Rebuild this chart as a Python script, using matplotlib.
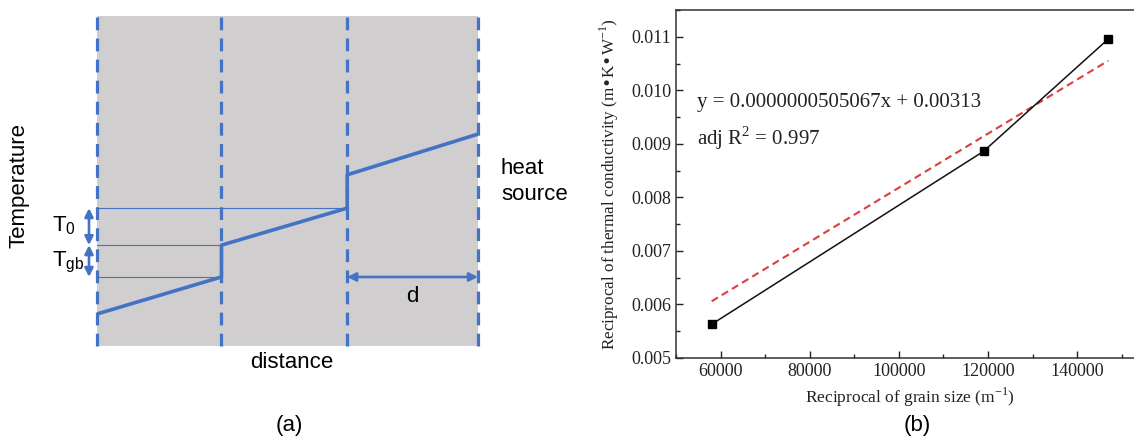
import matplotlib
matplotlib.use("Agg")
import matplotlib.pyplot as plt
from matplotlib.ticker import MultipleLocator

# ---------------- data ----------------
# panel (a): schematic temperature profile across grains
grain_edges = [0.0, 0.98, 1.97, 3.0]          # grain boundary positions (distance)
temp_left = [0.0, 1.86, 3.76]                 # temperature at left side of each grain
temp_right = [1.0, 2.86, 4.86]                # temperature at right side of each grain

# panel (b): reciprocal of thermal conductivity vs reciprocal of grain size
grain_recip = [58000, 119000, 147000]
cond_recip = [0.00563, 0.00886, 0.01096]
fit_slope = 0.0000000505067
fit_intercept = 0.00313
fit_label = "y = 0.0000000505067x + 0.00313"
r2_label = r"adj R$^\mathregular{2}$ = 0.997"
x_ticks = [60000, 80000, 100000, 120000, 140000]
y_ticks = [0.005, 0.006, 0.007, 0.008, 0.009, 0.010, 0.011]

W, H = 1134, 437
fig = plt.figure(figsize=(W / 100, H / 100), dpi=100)
fig.patch.set_facecolor("white")

def box(x0, y0, x1, y1):
    # pixel box (top-left origin) -> figure fraction
    return [x0 / W, 1 - y1 / H, (x1 - x0) / W, (y1 - y0) / H]

def fx(x):
    return x / W

def fy(y):
    return 1 - y / H

BLUE = "#4472c4"
GRAY = "#d0cece"
SANS = "Liberation Sans"
SERIF = "Liberation Serif"

# ---------------- panel (a) ----------------
ax = fig.add_axes(box(97, 16, 478, 346))
ax.set_facecolor(GRAY)
for s in ax.spines.values():
    s.set_visible(False)
ax.set_xticks([])
ax.set_yticks([])
ax.set_xlim(grain_edges[0], grain_edges[-1])
ax.set_ylim(-0.865, 8.05)

for e in grain_edges:
    ax.axvline(e, color=BLUE, lw=2.3, dashes=(4.0, 2.6), clip_on=False, zorder=3)

# temperature profile: linear in each grain with jumps at boundaries
px, py = [], []
for i in range(len(temp_left)):
    px += [grain_edges[i], grain_edges[i + 1]]
    py += [temp_left[i], temp_right[i]]
ax.plot(px, py, color=BLUE, lw=2.6, solid_capstyle="butt", zorder=4)

# thin reference lines
ax.plot([grain_edges[0], grain_edges[2]], [temp_right[1]] * 2, color=BLUE, lw=0.8, zorder=2)
ax.plot([grain_edges[0], grain_edges[1]], [temp_left[1]] * 2, color=BLUE, lw=0.8, zorder=2)
ax.plot([grain_edges[0], grain_edges[1]], [temp_right[0]] * 2, color=BLUE, lw=0.8, zorder=2)

arrow_kw = dict(arrowstyle="<|-|>,head_length=0.5,head_width=0.25", color=BLUE, lw=1.9,
                shrinkA=0, shrinkB=0)
xa = -0.063
ax.annotate("", xy=(xa, temp_right[1]), xytext=(xa, temp_left[1]),
            arrowprops=arrow_kw, annotation_clip=False)
ax.annotate("", xy=(xa, temp_left[1]), xytext=(xa, temp_right[0]),
            arrowprops=arrow_kw, annotation_clip=False)
ax.annotate("", xy=(grain_edges[2], temp_right[0]), xytext=(grain_edges[3], temp_right[0]),
            arrowprops=arrow_kw, annotation_clip=False)

tk = dict(family=SANS, fontsize=16, color="black")
fig.text(fx(19), fy(186), "Temperature", rotation=90, ha="center", va="center", **tk)
fig.text(fx(52), fy(226), r"T$_\mathregular{0}$", ha="left", va="center", **tk)
fig.text(fx(52), fy(262), r"T$_\mathregular{gb}$", ha="left", va="center", **tk)
fig.text(fx(501), fy(168), "heat", ha="left", va="center", **tk)
fig.text(fx(501), fy(194), "source", ha="left", va="center", **tk)
fig.text(fx(412), fy(297), "d", ha="center", va="center", **tk)
fig.text(fx(292), fy(363), "distance", ha="center", va="center", **tk)
fig.text(fx(289), fy(425), "(a)", ha="center", va="center", **tk)

# ---------------- panel (b) ----------------
bx = fig.add_axes(box(676, 10, 1144, 358))
bx.set_xlim(50000, 155000)
bx.set_ylim(0.005, 0.0115)
bx.set_xticks(x_ticks)
bx.set_yticks(y_ticks)
bx.set_yticklabels([f"{v:.3f}" for v in y_ticks])
bx.xaxis.set_minor_locator(MultipleLocator(10000))
bx.yaxis.set_minor_locator(MultipleLocator(0.0005))
bx.tick_params(which="both", direction="in", top=False, right=False, width=1.0, color="#222222")
bx.tick_params(which="major", length=5)
bx.tick_params(which="minor", length=3)
bx.tick_params(labelsize=13, colors="#222222")
for lab in bx.get_xticklabels() + bx.get_yticklabels():
    lab.set_family(SERIF)
for s in bx.spines.values():
    s.set_linewidth(1.1)
    s.set_color("#333333")

bx.plot(grain_recip, cond_recip, color="#111111", lw=1.1, marker="s", markersize=6,
        markerfacecolor="black", markeredgecolor="black", zorder=3)
fx0, fx1 = min(grain_recip), max(grain_recip)
bx.plot([fx0, fx1], [fit_slope * fx0 + fit_intercept, fit_slope * fx1 + fit_intercept],
        color="#e03c3c", lw=1.5, dashes=(3.5, 2.2), zorder=2)

bx.set_xlabel(r"Reciprocal of grain size (m$^\mathregular{-1}$)", family=SERIF, fontsize=12.5,
              labelpad=4, color="#222222")
bx.set_ylabel(r"Reciprocal of thermal conductivity (m•K•W$^\mathregular{-1}$)", family=SERIF,
              fontsize=12.3, labelpad=7, color="#222222")

fig.text(fx(697), fy(103), fit_label, family=SERIF, fontsize=15, ha="left", va="center",
         color="#222222")
fig.text(fx(697), fy(138), r2_label, family=SERIF, fontsize=15, ha="left", va="center",
         color="#222222")
fig.text(fx(917), fy(425), "(b)", ha="center", va="center", **tk)

fig.savefig("out.png", dpi=100, facecolor="white")
